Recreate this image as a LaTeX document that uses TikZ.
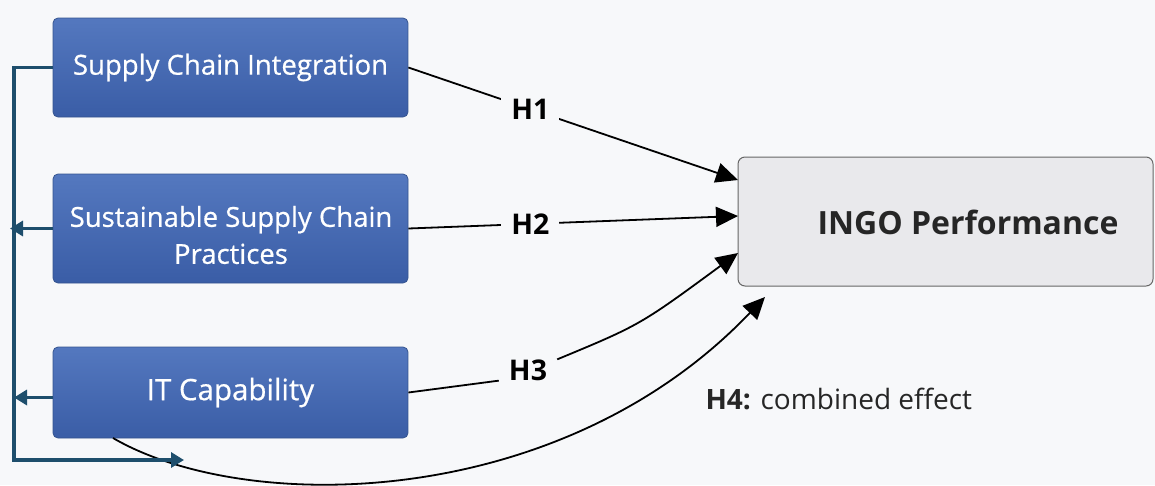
\documentclass[tikz,border=0pt]{standalone}
\usepackage{fontspec}
\setmainfont{Open Sans}
\newfontfamily\semib{Open Sans}[FakeBold=0.6]
\usetikzlibrary{arrows.meta}
\definecolor{bg}{HTML}{F7F8FA}
\definecolor{boxtop}{HTML}{5478BF}
\definecolor{boxbot}{HTML}{3A5DA6}
\definecolor{boxline}{HTML}{35548F}
\definecolor{tealline}{HTML}{1E4E6C}
\definecolor{ingofill}{HTML}{E9E9EC}
\begin{document}
\begin{tikzpicture}[x=1pt,y=-1pt,
  bluebox/.style={draw=boxline, line width=0.8pt, rounded corners=5pt,
    top color=boxtop, bottom color=boxbot, text=white,
    font=\semib\fontsize{27.5}{37}\selectfont, align=center,
    minimum width=355pt, inner sep=0pt},
  boxtext/.style={text=white, font=\semib\fontsize{27.5}{37}\selectfont, align=center},
  arr/.style={line width=1.8pt, -{Triangle[length=22pt,width=20pt]}},
  plain/.style={line width=1.8pt},
  hlab/.style={font=\bfseries\fontsize{28.5}{31}\selectfont, fill=bg, inner xsep=10pt, inner ysep=2pt},
  tl/.style={draw=tealline, line width=3.4pt},
  tarr/.style={tl, -{Triangle[length=13pt,width=15pt]}}]
\useasboundingbox (0,0) rectangle (1155,485);
\fill[bg] (0,0) rectangle (1155,485);

% left boxes
\node[bluebox, minimum height=99pt] (sci) at (230.5,67.5) {Supply Chain Integration};
\node[bluebox, minimum height=109pt] (sscp) at (230.5,228.5) {};
\node[boxtext] (sscptxt) at (231,235) {Sustainable Supply Chain\\Practices};
\node[bluebox, minimum height=91pt, font=\semib\fontsize{29.5}{37}\selectfont] (it) at (230.5,392.5) {IT Capability};

% target box
\node[draw=black!60, line width=1pt, fill=ingofill, rounded corners=7pt,
  minimum width=415pt, minimum height=129pt, inner sep=0pt] (ingo) at (945.5,221.5) {};
\node[font=\bfseries\fontsize{32}{36}\selectfont, text=black!85] (ingotxt) at (968,222) {INGO Performance};

% arrow tips
\coordinate (p1) at (738,180);
\coordinate (p2) at (738,216);
\coordinate (p3) at (738,253);
\coordinate (p4) at (765,297);

% H1, H2
\draw[arr] (sci.east) -- node[hlab, pos=0.37] (h1) {H1} (p1);
\draw[arr] (sscp.east) -- node[hlab, pos=0.37] (h2) {H2} (p2);

% H3
\node[hlab] (h3) at (528,370) {H3};
\draw[plain] (it.east) -- (h3.200);
\draw[arr] (h3.20) .. controls (640,325) .. (p3);

% H4
\coordinate (itb) at (113,438);
\draw[arr] (itb) .. controls (245,515) and (560,512) .. (p4);
\node[anchor=west, font=\fontsize{28}{31}\selectfont, text=black!85] (h4) at (702,399) {\textbf{H4:} combined effect};

% left teal connectors
\coordinate (lt) at (14,67.5);
\coordinate (lb) at (14,460);
\coordinate (bt) at (184,460);
\draw[tarr] (sci.west) -- (lt) -- (lb) -- (bt);
\draw[tarr] (sscp.west) -- (sscp.west -| 10,0);
\draw[tarr] ([yshift=-5pt]it.west) -- ([yshift=-5pt]it.west -| 14,0);
\end{tikzpicture}
\end{document}
